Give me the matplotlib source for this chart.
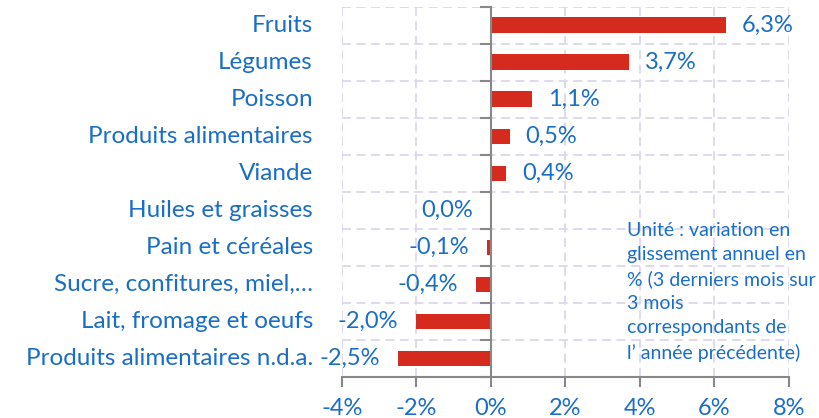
import numpy as np
import matplotlib.pyplot as plt
from matplotlib.ticker import FixedLocator

categories = ["Fruits", "Légumes", "Poisson", "Produits alimentaires", "Viande",
              "Huiles et graisses", "Pain et céréales", "Sucre, confitures, miel,…",
              "Lait, fromage et oeufs", "Produits alimentaires n.d.a."]
values = [6.3, 3.7, 1.1, 0.5, 0.4, 0.0, -0.1, -0.4, -2.0, -2.5]
xticks = [-4, -2, 0, 2, 4, 6, 8]
note = ("Unité : variation en\nglissement annuel en\n% (3 derniers mois sur\n"
        "3 mois\ncorrespondants de\nl’ année précédente)")

blue = "#1a6ec6"
red = "#d52b1e"
grid_c = "#dcd8ea"
axis_c = "#888888"

plt.rcParams['font.family'] = ['Lato', 'DejaVu Sans']

fig = plt.figure(figsize=(8.2, 4.18), dpi=100)
ax = fig.add_axes([0.417, 0.098, 0.545, 0.886])

n = len(categories)
ypos = np.arange(n)[::-1]
ax.barh(ypos, values, height=0.42, color=red, zorder=3)

ax.set_xlim(-4, 8)
ax.set_ylim(-0.5, n - 0.5)
ax.set_xticks(xticks)
ax.set_xticklabels([f"{t}%" for t in xticks], color=blue, fontsize=17)
ax.tick_params(axis='x', length=7, width=1.5, color=axis_c, pad=8)

ax.set_yticks([])
ax.yaxis.set_minor_locator(FixedLocator(np.arange(n + 1) - 0.5))
ax.tick_params(axis='y', which='minor', length=8, width=1.5, color=axis_c, direction='out')

for s in ['top', 'right']:
    ax.spines[s].set_visible(False)
ax.spines['left'].set_position(('data', 0))
ax.spines['left'].set_color(axis_c)
ax.spines['left'].set_linewidth(1.5)
ax.spines['left'].set_zorder(4)
ax.spines['bottom'].set_color(axis_c)
ax.spines['bottom'].set_linewidth(1.5)

ax.grid(axis='x', which='major', color=grid_c, linestyle=(0, (5, 3)), linewidth=1.3, zorder=1)
ax.grid(axis='y', which='minor', color=grid_c, linestyle=(0, (5, 3)), linewidth=1.3, zorder=1)

for y, lab in zip(ypos, categories):
    ax.annotate(lab, xy=(0, y), xycoords=('axes fraction', 'data'),
                xytext=(-29, 0), textcoords='offset pixels',
                ha='right', va='center', color=blue, fontsize=17.5)

for y, v in zip(ypos, values):
    txt = f"{v:.1f}%".replace('.', ',')
    if v > 0:
        ax.annotate(txt, xy=(v, y), xytext=(16, 0), textcoords='offset pixels',
                    ha='left', va='center', color=blue, fontsize=17)
    else:
        ax.annotate(txt, xy=(min(v, 0), y), xytext=(-18, 0), textcoords='offset pixels',
                    ha='right', va='center', color=blue, fontsize=17)

fig.text(627 / 820, 1 - 222 / 418, note, ha='left', va='top', color=blue,
         fontsize=14, linespacing=1.5)

fig.savefig("out.png", dpi=100)
